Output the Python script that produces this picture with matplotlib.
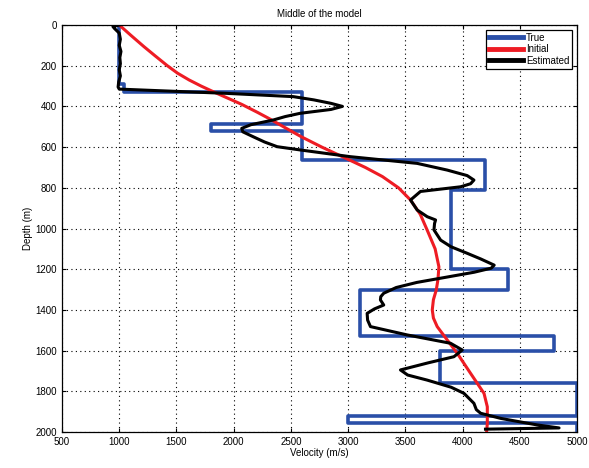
import numpy as np
import matplotlib.pyplot as plt

plt.rcParams['font.family'] = ['Liberation Sans', 'DejaVu Sans']

# true model: layer tops (m) and layer velocities (m/s)
true_tops = [0, 290, 330, 485, 520, 665, 810, 1200, 1300, 1530, 1600, 1760, 1920, 1955]
true_vel = [1000, 1040, 2600, 1800, 2600, 4200, 3900, 4400, 3100, 4800, 3800, 5000, 3000, 5000]
max_depth = 2000

# initial (smooth) model
init_depth = [0, 50, 106, 150, 200, 237, 270, 300, 330, 360, 390, 430, 460, 508, 549, 600,
              663, 700, 745, 800, 860, 930, 1007, 1100, 1188, 1250, 1302, 1350, 1400, 1440,
              1482, 1548, 1614, 1712, 1810, 1876, 1957, 2000]
init_vel = [1000, 1100, 1215, 1310, 1420, 1510, 1610, 1715, 1830, 1950, 2070, 2210, 2310,
            2460, 2590, 2770, 3010, 3150, 3300, 3440, 3545, 3630, 3690, 3760, 3793, 3785,
            3770, 3745, 3735, 3745, 3778, 3866, 3954, 4070, 4187, 4216, 4216, 4210]

# estimated model after inversion
est_depth = [0, 8, 18, 40, 70, 100, 130, 160, 190, 220, 250, 280, 305, 315, 323, 336, 352,
             368, 385, 400, 415, 434, 450, 467, 490, 508, 525, 549, 575, 598, 614, 647,
             680, 713, 740, 762, 780, 795, 818, 860, 909, 942, 958, 975, 1007, 1057, 1090,
             1122, 1150, 1180, 1195, 1215, 1240, 1265, 1290, 1318, 1335, 1351, 1376, 1395,
             1417, 1450, 1482, 1523, 1564, 1597, 1630, 1660, 1695, 1720, 1745, 1780, 1810,
             1859, 1890, 1908, 1933, 1950, 1965, 1980, 1986]
est_vel = [1000, 945, 960, 1000, 1010, 1000, 1015, 1005, 1010, 1000, 1010, 995, 990, 1000,
           1355, 1940, 2520, 2700, 2850, 2950, 2850, 2580, 2450, 2345, 2150, 2070, 2080,
           2170, 2270, 2380, 2581, 3018, 3603, 3866, 4040, 4099, 4070, 3983, 3632, 3545,
           3603, 3691, 3764, 3755, 3750, 3808, 3900, 4041, 4160, 4276, 4250, 4100, 3850,
           3600, 3420, 3311, 3285, 3282, 3311, 3230, 3166, 3170, 3195, 3516, 3895, 3997,
           3924, 3700, 3457, 3520, 3691, 3900, 4012, 4099, 4120, 4158, 4333, 4500, 4650,
           4843, 4200]

# staircase outline of the layered model
bottoms = true_tops[1:] + [max_depth]
step_depth = np.ravel(np.column_stack([true_tops, bottoms]))
step_vel = np.repeat(true_vel, 2)

fig = plt.figure(figsize=(5.89, 4.68), dpi=100)
ax = fig.add_axes([0.1053, 0.0769, 0.8744, 0.8697])

ax.plot(step_vel, step_depth, color='#2a4fa8', lw=2.6, label='True')
ax.plot(init_vel, init_depth, color='#ee1c24', lw=2.2, label='Initial')
ax.plot(est_vel, est_depth, color='black', lw=2.2, label='Estimated')

ax.set_xlim(500, 5000)
ax.set_ylim(2000, 0)
ax.set_xticks(np.arange(500, 5001, 500))
ax.set_yticks(np.arange(0, 2001, 200))
ax.grid(True, color='black', linestyle=(0, (1, 3)), lw=0.8)
ax.tick_params(direction='in', top=True, right=True, labelsize=7, length=3)
for s in ax.spines.values():
    s.set_linewidth(0.9)

ax.set_xlabel('Velocity (m/s)', fontsize=7, labelpad=1)
ax.set_ylabel('Depth (m)', fontsize=7, labelpad=2)
ax.set_title('Middle of the model', fontsize=7, pad=6)

leg = ax.legend(loc='upper right', fontsize=7, fancybox=False, edgecolor='black',
                framealpha=1, handlelength=3.5, handletextpad=0.3, borderpad=0.3,
                labelspacing=0.15, borderaxespad=0.5)
leg.get_frame().set_linewidth(0.9)
for h in leg.get_lines():
    h.set_linewidth(3.5)

fig.savefig('out.png', dpi=100)
